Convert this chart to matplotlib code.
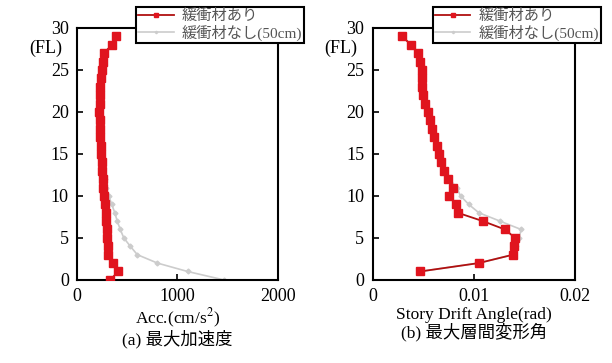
import matplotlib
matplotlib.use("Agg")
import matplotlib.pyplot as plt

plt.rcParams["font.family"] = ["Liberation Serif", "Noto Sans CJK JP", "DejaVu Sans"]
plt.rcParams["mathtext.fontset"] = "stix"

floors = list(range(0, 30))
# (a) 最大加速度 (cm/s2)
acc_with = [330, 410, 360, 310, 305, 300, 295, 290, 285, 275, 265, 260, 255, 250, 245,
            240, 235, 230, 228, 225, 222, 225, 228, 232, 238, 245, 255, 265, 350, 385]
acc_without = [1460, 1100, 800, 600, 530, 465, 430, 400, 375, 345, 315, 290, 275, 255, 245,
               240, 235, 230, 228, 225, 222, 225, 228, 232, 238, 245, 255, 265, 350, 385]

# (b) 最大層間変形角 (rad), floors 1-29
floors_b = list(range(1, 30))
drift_with = [0.0047, 0.0105, 0.0139, 0.0140, 0.0141, 0.0131, 0.0109, 0.0084, 0.0082, 0.0076,
              0.0080, 0.0075, 0.0071, 0.0068, 0.0066, 0.0064, 0.0061, 0.0059, 0.0057, 0.0055,
              0.0052, 0.0050, 0.0049, 0.0049, 0.0049, 0.0047, 0.0045, 0.0038, 0.0029]
drift_without = [0.0047, 0.0105, 0.0139, 0.0142, 0.0145, 0.0147, 0.0126, 0.0105, 0.0095, 0.0087,
                 0.0083, 0.0076, 0.0071, 0.0068, 0.0066, 0.0064, 0.0061, 0.0059, 0.0057, 0.0055,
                 0.0052, 0.0050, 0.0049, 0.0049, 0.0049, 0.0047, 0.0045, 0.0038, 0.0029]

LBL_WITH = "緩衝材あり"
LBL_WITHOUT = "緩衝材なし(50cm)"
RED = "#e0141e"
RED_LINE = "#b01010"
GRAY = "#cccccc"

fig = plt.figure(figsize=(6.12, 3.63), dpi=100)
ax1 = fig.add_axes([0.126, 0.229, 0.328, 0.694])
ax2 = fig.add_axes([0.609, 0.229, 0.330, 0.694])


def draw(ax, xw, yw, xo, yo):
    ax.plot(xo, yo, color=GRAY, lw=1.2, marker="D", ms=2.5, mfc=GRAY, mec=GRAY,
            label=LBL_WITHOUT, zorder=2)
    ax.plot(xw, yw, color=RED_LINE, lw=1.3, marker="s", ms=6, mfc=RED, mec=RED,
            label=LBL_WITH, zorder=3)
    ax.set_ylim(0, 30)
    ax.set_yticks([0, 5, 10, 15, 20, 25, 30])
    ax.tick_params(direction="in", labelsize=13, length=4, width=1.2, pad=6)
    for s in ax.spines.values():
        s.set_linewidth(1.5)
    ax.text(-0.24, 27.6, "(FL)", transform=ax.get_yaxis_transform(), ha="left",
            va="center", fontsize=13)
    h, l = ax.get_legend_handles_labels()
    leg = ax.legend(h[::-1], l[::-1], loc="upper right", bbox_to_anchor=(1.13, 1.085),
                    fontsize=11, frameon=True, fancybox=False, edgecolor="black",
                    borderpad=0.15, labelspacing=0.1, handlelength=2.3,
                    handletextpad=0.5, markerscale=0.5, borderaxespad=0)
    leg.get_frame().set_linewidth(1.5)
    leg.get_frame().set_alpha(1)
    for t in leg.get_texts():
        t.set_color("#555555")


draw(ax1, acc_with, floors, acc_without, floors)
ax1.set_xlim(0, 2000)
ax1.set_xticks([0, 1000, 2000])
ax1.set_xlabel("Acc.(cm/s$^2$)\n(a) 最大加速度", fontsize=12.5, labelpad=1, linespacing=1.0)

draw(ax2, drift_with, floors_b, drift_without, floors_b)
ax2.set_xlim(0, 0.02)
ax2.set_xticks([0, 0.01, 0.02])
ax2.set_xticklabels(["0", "0.01", "0.02"])
ax2.set_xlabel("Story Drift Angle(rad)\n(b) 最大層間変形角", fontsize=12.5, labelpad=1,
               linespacing=1.0)

fig.savefig("out.png", dpi=100)
